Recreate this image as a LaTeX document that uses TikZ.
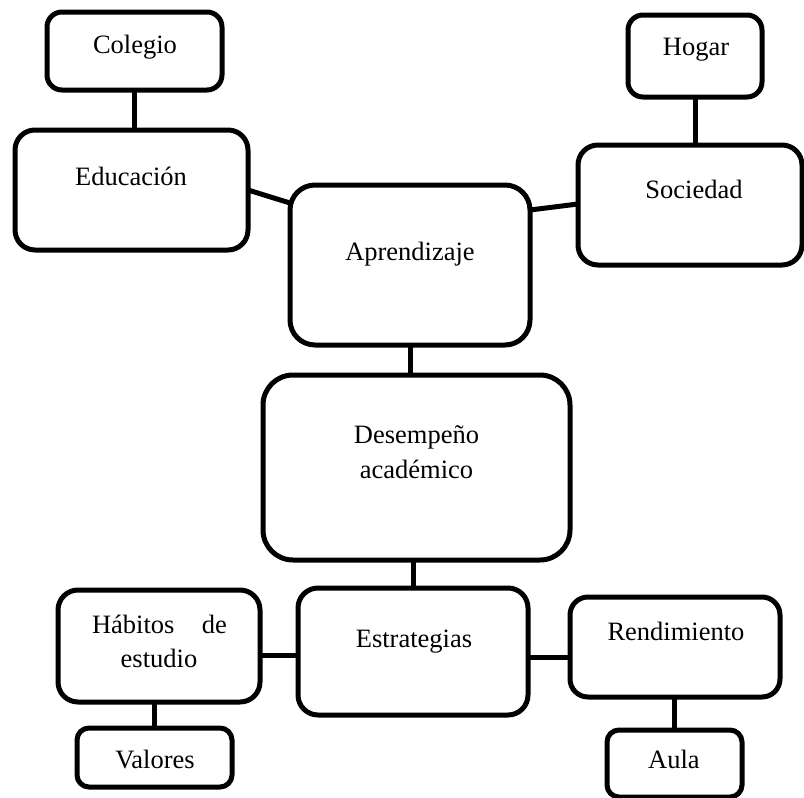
\documentclass[tikz,border=0pt]{standalone}
\usepackage{fontspec}
\setmainfont{Liberation Serif}
\begin{document}
\begin{tikzpicture}[x=1pt,y=-1pt,
  box/.style={draw=black,line width=5pt,rounded corners=#1,inner sep=0pt,outer sep=0pt,fill=white},
  box/.default=18pt,
  lbl/.style={anchor=base,inner sep=0pt,font=\fontsize{26.5}{35}\selectfont},
  link/.style={line width=5pt,draw=black}]
\useasboundingbox (0,0) rectangle (804,798);
% boxes
\node[box=15pt,minimum width=175pt,minimum height=78pt] (col) at (134.5,51) {};
\node[box=20pt,minimum width=233pt,minimum height=120pt] (edu) at (131.5,190) {};
\node[box=25pt,minimum width=240pt,minimum height=160pt] (apr) at (410,265) {};
\node[box=15pt,minimum width=134pt,minimum height=82pt] (hog) at (695,56) {};
\node[box=20pt,minimum width=224pt,minimum height=120pt] (soc) at (690,205) {};
\node[box=30pt,minimum width=307pt,minimum height=185pt] (des) at (416.5,467.5) {};
\node[box=20pt,minimum width=230pt,minimum height=127pt] (est) at (413,651.5) {};
\node[box=20pt,minimum width=202pt,minimum height=112pt] (hab) at (159,646) {};
\node[box=12pt,minimum width=155pt,minimum height=59pt] (val) at (154.5,757.5) {};
\node[box=18pt,minimum width=210pt,minimum height=100pt] (ren) at (675,647) {};
\node[box=12pt,minimum width=135pt,minimum height=67pt] (aul) at (674.5,763.5) {};
% connectors
\begin{scope}[on background layer/.try]
\end{scope}
\draw[link] (col.south) -- (col.south |- edu.north);
\draw[link] (edu.east) -- ([yshift=-18pt]apr.north west);
\draw[link] ([yshift=-25pt]apr.north east) -- ([yshift=-59pt]soc.north west);
\draw[link] (hog.south) -- (hog.south |- soc.north);
\draw[link] (apr.south) -- (apr.south |- des.north);
\draw[link] (est.north |- des.south) -- (est.north);
\draw[link] ([yshift=-65pt]hab.north east) -- ([yshift=-67pt]est.north west);
\draw[link] ([yshift=-69pt]est.north east) -- ([yshift=-60pt]ren.north west);
\draw[link] (val.north) -- (val.north |- hab.south);
\draw[link] (aul.north) -- (aul.north |- ren.south);
% labels
\node[lbl] (tcol) at (135,53) {Colegio};
\node[lbl] (tedu) at (131,185) {Educación};
\node[lbl] (tapr) at (410,260) {Aprendizaje};
\node[lbl] (thog) at (696,55) {Hogar};
\node[lbl] (tsoc) at (694,198) {Sociedad};
\node[lbl] (tdes1) at (416.5,443) {Desempeño};
\node[lbl] (tdes2) at (416.5,478) {académico};
\node[lbl] (test) at (414,647) {Estrategias};
\node[lbl,text width=135pt] (thab1) at (159.5,633) {Hábitos\hfill de};
\node[lbl] (thab2) at (159,667) {estudio};
\node[lbl] (tval) at (155,768) {Valores};
\node[lbl] (tren) at (676,640) {Rendimiento};
\node[lbl] (taul) at (674,768) {Aula};
\end{tikzpicture}
\end{document}
